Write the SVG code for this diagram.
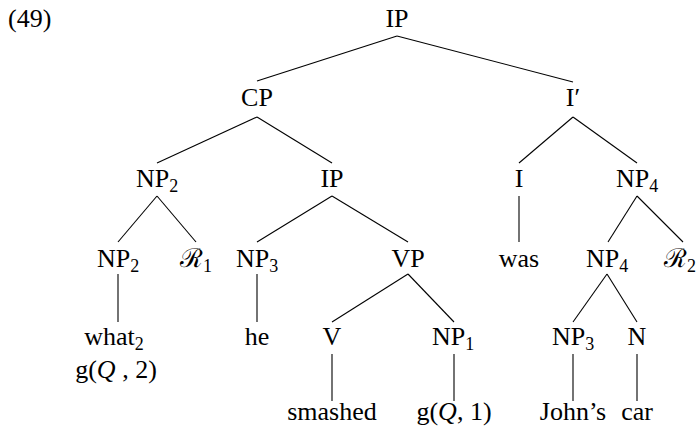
<svg xmlns="http://www.w3.org/2000/svg" width="697" height="432" viewBox="0 0 697 432">
<style>
.sub{font-size:18px}
.it{font-style:italic}
#edges line{stroke:#000;stroke-width:1.1}
</style>
<rect width="697" height="432" fill="#fff"/>
<g id="edges">
<line x1="397" y1="36" x2="257" y2="81"/>
<line x1="397" y1="36" x2="573" y2="82"/>
<line x1="257" y1="117" x2="157" y2="163"/>
<line x1="257" y1="117" x2="332" y2="163"/>
<line x1="573" y1="117" x2="519" y2="163"/>
<line x1="573" y1="117" x2="637" y2="163"/>
<line x1="157" y1="196" x2="118" y2="242"/>
<line x1="157" y1="196" x2="196" y2="242"/>
<line x1="332" y1="196" x2="257" y2="242"/>
<line x1="332" y1="196" x2="408" y2="242"/>
<line x1="519" y1="196" x2="519" y2="242"/>
<line x1="637" y1="196" x2="608" y2="242"/>
<line x1="637" y1="196" x2="683" y2="242"/>
<line x1="118" y1="274" x2="118" y2="322"/>
<line x1="257" y1="274" x2="257" y2="322"/>
<line x1="408" y1="274" x2="332" y2="322"/>
<line x1="408" y1="274" x2="454" y2="322"/>
<line x1="607" y1="274" x2="573" y2="322"/>
<line x1="607" y1="274" x2="637" y2="322"/>
<line x1="332" y1="354" x2="332" y2="401"/>
<line x1="454" y1="354" x2="454" y2="401"/>
<line x1="573" y1="354" x2="573" y2="401"/>
<line x1="637" y1="354" x2="637" y2="401"/>
</g>
<text x="8" y="27" font-family="Liberation Serif" font-size="26">(49)</text>
<g id="n-ip"><text x="397" y="27" font-family="Liberation Serif" font-size="26" text-anchor="middle">IP</text></g>
<g id="n-cp"><text x="257" y="106" font-family="Liberation Serif" font-size="26" text-anchor="middle">CP</text></g>
<g id="n-ibar"><text x="573" y="106" font-family="Liberation Serif" font-size="26" text-anchor="middle">I′</text></g>
<g id="n-np2a"><text x="157" y="187" font-family="Liberation Serif" font-size="26" text-anchor="middle">NP<tspan class="sub" dy="5">2</tspan></text></g>
<g id="n-ip2"><text x="332" y="187" font-family="Liberation Serif" font-size="26" text-anchor="middle">IP</text></g>
<g id="n-i"><text x="519" y="187" font-family="Liberation Serif" font-size="26" text-anchor="middle">I</text></g>
<g id="n-np4a"><text x="637" y="187" font-family="Liberation Serif" font-size="26" text-anchor="middle">NP<tspan class="sub" dy="5">4</tspan></text></g>
<g id="n-np2b"><text x="118" y="267" font-family="Liberation Serif" font-size="26" text-anchor="middle">NP<tspan class="sub" dy="5">2</tspan></text></g>
<g id="n-r1"><text x="196" y="267" font-family="Liberation Serif" font-size="26" text-anchor="middle">ℛ<tspan class="sub" dy="5">1</tspan></text></g>
<g id="n-np3a"><text x="257" y="267" font-family="Liberation Serif" font-size="26" text-anchor="middle">NP<tspan class="sub" dy="5">3</tspan></text></g>
<g id="n-vp"><text x="408" y="267" font-family="Liberation Serif" font-size="26" text-anchor="middle">VP</text></g>
<g id="n-was"><text x="519" y="267" font-family="Liberation Serif" font-size="26" text-anchor="middle">was</text></g>
<g id="n-np4b"><text x="607" y="267" font-family="Liberation Serif" font-size="26" text-anchor="middle">NP<tspan class="sub" dy="5">4</tspan></text></g>
<g id="n-r2"><text x="680" y="267" font-family="Liberation Serif" font-size="26" text-anchor="middle">ℛ<tspan class="sub" dy="5">2</tspan></text></g>
<g id="n-what"><text x="114" y="345" font-family="Liberation Serif" font-size="26" text-anchor="middle">what<tspan class="sub" dy="5">2</tspan></text><text x="116" y="378" font-family="Liberation Serif" font-size="26" text-anchor="middle">g(<tspan class="it">Q</tspan> , 2)</text></g>
<g id="n-he"><text x="257" y="345" font-family="Liberation Serif" font-size="26" text-anchor="middle">he</text></g>
<g id="n-v"><text x="332" y="345" font-family="Liberation Serif" font-size="26" text-anchor="middle">V</text></g>
<g id="n-np1"><text x="453" y="345" font-family="Liberation Serif" font-size="26" text-anchor="middle">NP<tspan class="sub" dy="5">1</tspan></text></g>
<g id="n-np3b"><text x="573" y="345" font-family="Liberation Serif" font-size="26" text-anchor="middle">NP<tspan class="sub" dy="5">3</tspan></text></g>
<g id="n-n"><text x="637" y="345" font-family="Liberation Serif" font-size="26" text-anchor="middle">N</text></g>
<g id="n-smashed"><text x="332" y="420" font-family="Liberation Serif" font-size="26" text-anchor="middle">smashed</text></g>
<g id="n-g1"><text x="454" y="420" font-family="Liberation Serif" font-size="26" text-anchor="middle">g(<tspan class="it">Q</tspan>, 1)</text></g>
<g id="n-johns"><text x="573" y="420" font-family="Liberation Serif" font-size="26" text-anchor="middle">John’s</text></g>
<g id="n-car"><text x="637" y="420" font-family="Liberation Serif" font-size="26" text-anchor="middle">car</text></g>
</svg>
